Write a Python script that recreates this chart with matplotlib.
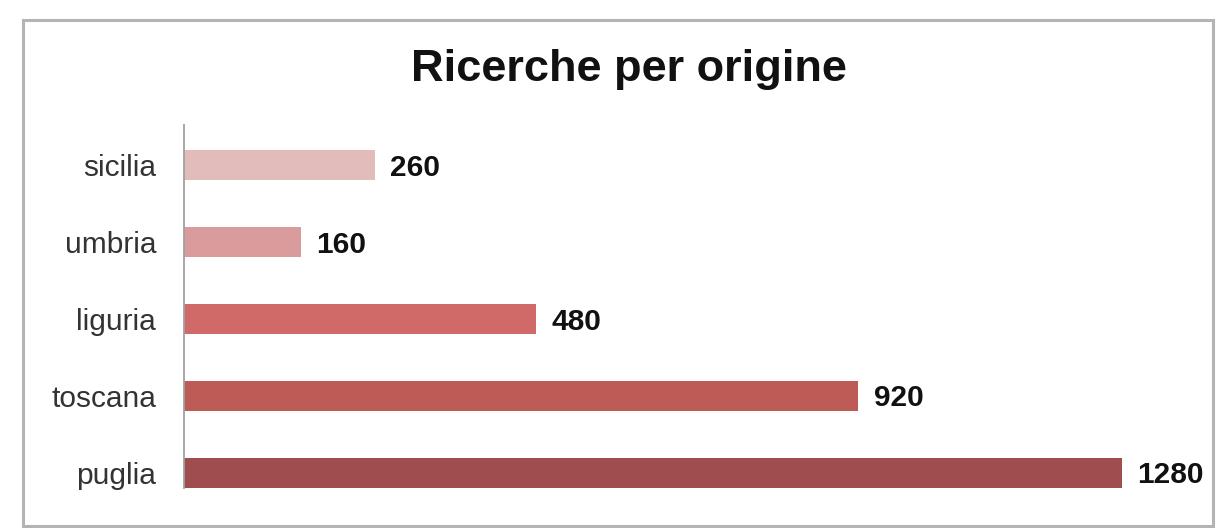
import matplotlib as mpl
mpl.use('agg')
import matplotlib.pyplot as plt
from matplotlib.patches import Rectangle

plt.rc('font', family='Liberation Sans')

regioni = ["puglia", "toscana", "liguria", "umbria", "sicilia"]
ricerche = [1280, 920, 480, 160, 260]
colori = ["#a04d4f", "#bd5b56", "#cf6a68", "#d99b9b", "#e2bcba"]

W, H = 1217, 528
fig = plt.figure(figsize=(W / 100, H / 100), dpi=100)

# grey frame around the whole chart
fig.patches.append(Rectangle((23 / W, 1 - 526 / H), 1190 / W, 506 / H,
                             transform=fig.transFigure, fill=False,
                             edgecolor="#b4b4b4", linewidth=2.2))

ax = fig.add_axes([184 / W, (H - 488) / H, 1026 / W, 363 / H])
pos = list(range(len(regioni)))
ax.barh(pos, ricerche, height=0.39, color=colori, left=0)
for y, v in zip(pos, ricerche):
    ax.annotate(str(v), (v, y), xytext=(11, -2), textcoords="offset points",
                va="center", ha="left", fontsize=21.5, fontweight="bold",
                color="#111111")

ax.set_xlim(0, 1400)
ax.set_ylim(-0.2, 4.52)
ax.set_yticks(pos)
ax.set_yticklabels(regioni, fontsize=21.5, color="#333333")
ax.tick_params(axis="y", length=0, pad=20)
ax.set_xticks([])
for s in ["top", "right", "bottom"]:
    ax.spines[s].set_visible(False)
ax.spines["left"].set_color("#a0a0a0")
ax.spines["left"].set_linewidth(1.3)

fig.text(629 / W, 1 - 70 / H, "Ricerche per origine", ha="center", va="center",
         fontsize=32.5, fontweight="bold", color="#111111")

fig.savefig("out.png", dpi=100)
